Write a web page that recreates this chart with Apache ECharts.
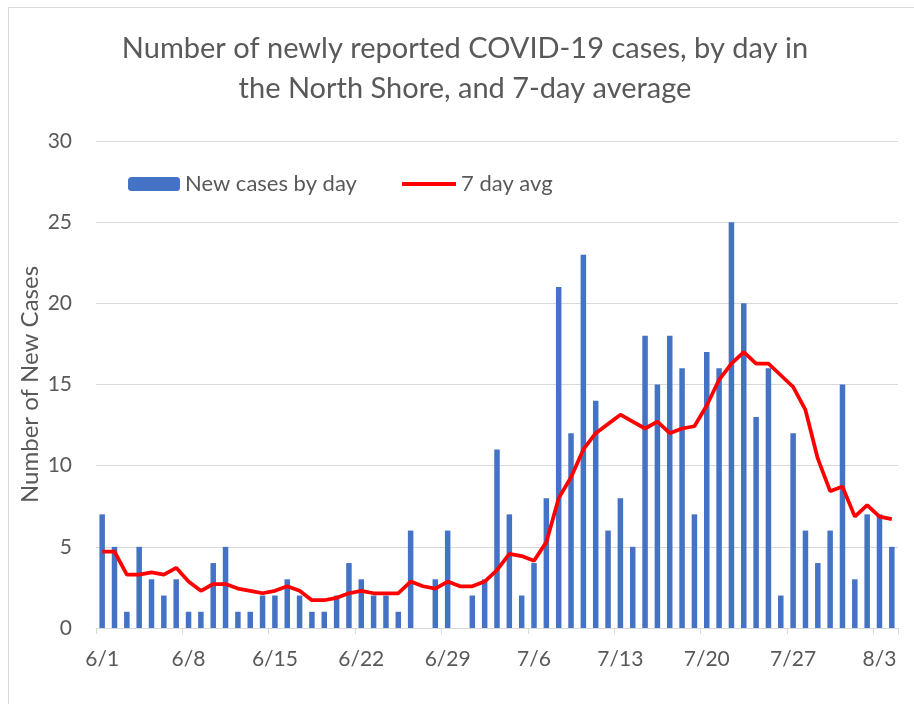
<!DOCTYPE html>
<html>
<head>
<meta charset="utf-8">
<script src="https://cdn.jsdelivr.net/npm/echarts@6/dist/echarts.min.js"></script>
<style>
html,body{margin:0;padding:0;background:#fff;}
#chart{width:914px;height:704px;}
</style>
</head>
<body>
<div id="chart"></div>
<script>
var categories = ['6/1','6/2','6/3','6/4','6/5','6/6','6/7','6/8','6/9','6/10','6/11','6/12','6/13','6/14','6/15','6/16','6/17','6/18','6/19','6/20','6/21','6/22','6/23','6/24','6/25','6/26','6/27','6/28','6/29','6/30',
'7/1','7/2','7/3','7/4','7/5','7/6','7/7','7/8','7/9','7/10','7/11','7/12','7/13','7/14','7/15','7/16','7/17','7/18','7/19','7/20','7/21','7/22','7/23','7/24','7/25','7/26','7/27','7/28','7/29','7/30','7/31',
'8/1','8/2','8/3','8/4'];
var newCases = [7,5,1,5,3,2,3,1,1,4,5,1,1,2,2,3,2,1,1,2,4,3,2,2,1,6,0,3,6,0,
2,3,11,7,2,4,8,21,12,23,14,6,8,5,18,15,18,16,7,17,16,25,20,13,16,2,12,6,4,6,15,
3,7,7,5];
var avg7 = [4.71,4.71,3.29,3.29,3.43,3.29,3.71,2.86,2.29,2.71,2.71,2.43,2.29,2.14,2.29,2.57,2.29,1.71,1.71,1.86,2.14,2.29,2.14,2.14,2.14,2.86,2.57,2.43,2.86,2.57,
2.57,2.86,3.57,4.57,4.43,4.14,5.29,8.00,9.29,11.00,12.00,12.57,13.14,12.71,12.29,12.71,12.00,12.29,12.43,13.71,15.29,16.29,17.00,16.29,16.29,15.57,14.86,13.43,10.43,8.43,8.71,
6.86,7.57,6.86,6.71];
var yTicks = [0,5,10,15,20,25,30];
var titleText = 'Number of newly reported COVID-19 cases, by day in\nthe North Shore, and 7-day average';

var FONT = 'Lato, "Open Sans", sans-serif';
var GRAY = '#595959';
var chart = echarts.init(document.getElementById('chart'), null, {renderer:'canvas'});
chart.setOption({
  animation: false,
  backgroundColor: '#ffffff',
  graphic: [
    {type:'rect', shape:{x:8.5, y:7.5, width:920, height:720}, style:{fill:'none', stroke:'#d9d9d9', lineWidth:1}, silent:true, z:-10},
    {type:'text', x:465, y:69, style:{text:titleText, align:'center', verticalAlign:'middle', fontFamily:FONT, fontSize:29, lineHeight:40, fill:GRAY}}
  ],
  legend: [
    {data:['New cases by day'], left:128, top:173, itemWidth:52, itemHeight:14, itemGap:6, textStyle:{fontFamily:FONT, fontSize:22, color:GRAY}, padding:0},
    {data:[{name:'7 day avg', icon:'rect'}], left:402, top:173, itemWidth:54, itemHeight:4, textStyle:{fontFamily:FONT, fontSize:22, color:GRAY}, itemStyle:{color:'#FF0000'}, padding:0}
  ],
  grid: {left:96, right:16, top:141, bottom:76, containLabel:false},
  xAxis: {
    type:'category', data:categories, boundaryGap:true,
    axisLine:{show:true, lineStyle:{color:'#d9d9d9', width:1}},
    axisTick:{show:true, interval:6, length:6, lineStyle:{color:'#d9d9d9'}},
    axisLabel:{interval:6, fontFamily:FONT, fontSize:21, color:GRAY, margin:21}
  },
  yAxis: {
    type:'value', min:0, max:30, interval:5,
    name:'Number of New Cases', nameLocation:'middle', nameGap:54, nameRotate:90, nameMoveOverlap:false,
    nameTextStyle:{fontFamily:FONT, fontSize:24, color:GRAY},
    axisLine:{show:false}, axisTick:{show:false},
    splitLine:{lineStyle:{color:'#d9d9d9', width:1}},
    axisLabel:{fontFamily:FONT, fontSize:21, color:GRAY, margin:24}
  },
  series: [
    {name:'New cases by day', type:'bar', data:newCases, barWidth:5.5, itemStyle:{color:'#4472C4'}},
    {name:'7 day avg', type:'line', data:avg7, symbol:'none', showSymbol:false, lineStyle:{color:'#FF0000', width:3.75}, itemStyle:{color:'#FF0000'}, z:5}
  ]
});
</script>
</body>
</html>
